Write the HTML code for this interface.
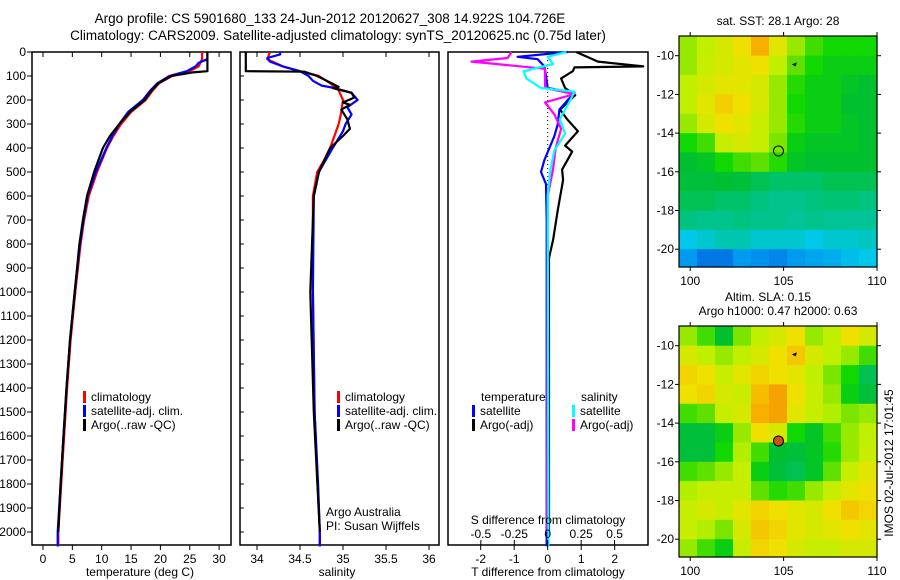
<!DOCTYPE html>
<html><head><meta charset="utf-8"><style>
html,body{margin:0;padding:0;background:#fff}
svg{display:block;font-family:"Liberation Sans",sans-serif}
</style></head><body>
<svg id="s" width="900" height="580" viewBox="0 0 900 580">
<text x="330" y="23" text-anchor="middle" font-size="13.5">Argo profile: CS 5901680_133 24-Jun-2012 20120627_308 14.922S 104.726E</text>
<text x="338" y="40" text-anchor="middle" font-size="13.5">Climatology: CARS2009. Satellite-adjusted climatology: synTS_20120625.nc (0.75d later)</text>
<g id="g"></g>
</svg>
<script>
// ---------- data ----------
const depthTicks=[0,100,200,300,400,500,600,700,800,900,1000,1100,1200,1300,1400,1500,1600,1700,1800,1900,2000];
const tempTicks=[0,5,10,15,20,25,30];
const salTicks=[34,34.5,35,35.5,36];
const salTickLabels=["34","34.5","35","35.5","36"];
const tdTicks=[-2,-1,0,1,2];
const sdTicks=[-0.5,-0.25,0,0.25,0.5];
const sdTickLabels=["-0.5","-0.25","0","0.25","0.5"];

const tClimDepth=[0,30,60,80,100,130,160,200,250,300,350,400,500,600,700,800,1000,1200,1400,1600,1800,2000,2060];
const tClim=[27.1,27.1,26.5,25,22,19.8,18.7,17.5,15,13.3,12,10.9,9.2,7.8,7,6.4,5.5,4.7,4.1,3.6,3.1,2.6,2.6];
const tSatDepth=[0,30,45,60,80,100,130,160,200,250,300,350,400,500,600,700,800,1000,1200,1400,1600,1800,2000,2060];
const tSat=[28,28,26.5,26,24.5,21.5,19.5,18.3,17,14.5,13,11.8,10.8,9,7.6,6.9,6.3,5.4,4.6,4.0,3.5,3.0,2.5,2.5];
const tArgoDepth=[0,80,85,100,130,160,200,250,300,350,400,500,600,700,800,1000,1200,1400,1600,1800,2000];
const tArgo=[28,28,25.5,21.8,19.7,18.5,17.3,14.8,13,11.4,10.2,8.7,7.5,6.8,6.2,5.4,4.6,4.0,3.5,3.0,2.6];

const sClimDepth=[0,30,60,80,100,130,160,200,250,300,400,450,500,600,1000,1500,2000,2060];
const sClim=[34.15,34.12,34.3,34.5,34.72,34.85,34.95,35.0,34.98,34.95,34.85,34.78,34.7,34.65,34.65,34.67,34.73,34.73];
const sSatDepth=[0,10,25,40,60,80,100,120,140,150,170,200,230,260,300,330,400,450,500,600,1000,1500,1800,2000,2060];
const sSat=[34.27,34.27,34.12,34.15,34.3,34.5,34.6,34.65,34.75,34.9,35.1,35.17,35.05,35.1,35.03,35.0,34.88,34.8,34.72,34.66,34.65,34.67,34.71,34.73,34.73];
const sArgoDepth=[0,80,82,100,145,150,170,190,210,220,240,280,320,350,400,500,600,1000,1500,2000];
const sArgo=[33.87,33.87,34.55,34.7,34.95,34.88,35.1,35.13,35.0,35.08,34.98,35.05,35.08,35.0,34.85,34.72,34.66,34.62,34.66,34.73];

const dTSatDepth=[0,20,30,60,100,150,170,200,240,300,350,400,450,500,550,700,2000,2060];
const dTSat=[0.6,-0.9,-0.3,-0.1,-0.05,0,0.8,0.6,0.35,0.3,0.2,0.05,-0.1,-0.2,-0.05,-0.03,-0.03,-0.03];
const dTArgoDepth=[0,40,60,64,80,110,150,180,200,240,280,330,390,415,490,533,658,783,858,1000,2000];
const dTArgo=[0.85,1.5,2.85,0.8,0.75,0.4,0.52,0.82,0.67,0.37,0.58,0.9,0.52,0.73,0.43,0.46,0.3,0.16,0.04,0.04,0.04];
const dSSatDepth=[0,20,50,80,110,150,165,200,280,340,410,490,600,2000,2060];
const dSSat=[0.14,0.0,0.04,-0.18,-0.16,-0.05,0.2,0.17,0.09,0.13,0.05,0.02,0.0,0.005,0.005];
const dSArgoDepth=[0,25,40,70,150,175,210,260,320,400,490,600,2000];
const dSArgo=[-0.27,-0.3,-0.57,-0.02,-0.02,0.2,-0.02,0.05,0.1,0.06,0.04,0.0,-0.005];

const mapLonTicks=[100,105,110];
const mapLatTicks=[-10,-12,-14,-16,-18,-20];
const sstGrid=[
[.62,.65,.68,.72,.80,.70,.62,.55,.50,.50,.50],
[.62,.66,.68,.70,.72,.65,.58,.50,.48,.48,.48],
[.65,.68,.70,.70,.68,.62,.52,.48,.48,.46,.45],
[.65,.70,.75,.72,.68,.62,.50,.48,.48,.45,.45],
[.62,.68,.72,.70,.66,.62,.52,.48,.48,.46,.45],
[.50,.55,.66,.68,.66,.60,.48,.46,.46,.46,.45],
[.45,.46,.50,.55,.58,.52,.46,.45,.45,.45,.45],
[.44,.44,.45,.44,.42,.40,.40,.40,.42,.42,.42],
[.42,.42,.40,.40,.38,.37,.37,.38,.39,.39,.38],
[.38,.37,.37,.38,.37,.37,.36,.37,.36,.36,.36],
[.30,.32,.34,.34,.32,.32,.32,.30,.32,.32,.33],
[.22,.15,.15,.22,.20,.18,.22,.24,.25,.28,.30]];
const slaGrid=[
[.62,.55,.45,.60,.65,.68,.72,.62,.65,.72,.68],
[.68,.65,.62,.65,.68,.72,.76,.68,.65,.62,.55],
[.74,.72,.66,.70,.74,.72,.70,.65,.60,.50,.42],
[.72,.74,.68,.66,.78,.82,.72,.66,.62,.48,.44],
[.55,.58,.66,.68,.80,.82,.70,.66,.64,.60,.62],
[.44,.44,.48,.62,.72,.68,.50,.46,.55,.62,.65],
[.44,.44,.50,.64,.55,.45,.44,.46,.52,.62,.66],
[.55,.58,.62,.66,.48,.44,.42,.46,.58,.66,.70],
[.64,.66,.66,.66,.58,.52,.55,.62,.66,.70,.72],
[.66,.68,.66,.70,.74,.72,.70,.68,.72,.76,.74],
[.66,.64,.60,.68,.76,.74,.70,.68,.70,.72,.70],
[.62,.55,.48,.66,.74,.72,.68,.66,.66,.68,.68]];
const floatLon=104.726, floatLat=-14.922;

// ---------- helpers ----------
const NS="http://www.w3.org/2000/svg";
const G=document.getElementById('g');
function mk(tag,attrs,parent){const e=document.createElementNS(NS,tag);for(const k in attrs)e.setAttribute(k,attrs[k]);(parent||G).appendChild(e);return e;}
function txt(x,y,s,size,anchor,parent){const e=mk('text',{x:x,y:y,'font-size':size,'text-anchor':anchor||'middle'},parent);e.textContent=s;return e;}
const yD=d=>52+0.24*d;
const xT=t=>43+5.87*t;
const xS=s=>257+86*(s-34);
const xDT=v=>547.7+33.5*v;
const xDS=v=>547.7+133.7*v;

function panel(x0,x1,name){
  const r=mk('rect',{x:x0,y:52,width:x1-x0,height:493,fill:'none',stroke:'#000','stroke-width':1.5});
  
  
}
function line(depths,vals,xf,color,w,name){
  const pts=depths.map((d,i)=>xf(vals[i]).toFixed(1)+','+yD(d).toFixed(1)).join(' ');
  const p=mk('polyline',{points:pts,fill:'none',stroke:color,'stroke-width':w||2.2,'stroke-linejoin':'round'});
  
  
}
function xticks(ticks,labels,xf,ylab,top,name){
  const g=mk('g',{});
  
  
  ticks.forEach((t,i)=>{
    const x=xf(t);
    mk('line',{x1:x,x2:x,y1:545,y2:550,stroke:'#000'},g);
    if(top) mk('line',{x1:x,x2:x,y1:52,y2:57,stroke:'#000'},g);
    txt(x,ylab,labels?labels[i]:String(t),12,'middle',g);
  });
}
function legendEntry(x,y,color,label,name){
  const g=mk('g',{});
  
  
  mk('rect',{x:x,y:y-10,width:3,height:12,fill:color},g);
  txt(x+8,y,label,12,'start',g);
}

// ---------- panel 1: temperature ----------
panel(32,231,'temperature-panel');
const yt=mk('g',{});


depthTicks.forEach(d=>{mk('line',{x1:27,x2:32,y1:yD(d),y2:yD(d),stroke:'#000'},yt);txt(26,yD(d)+4,String(d),12,'end',yt);});
xticks(tempTicks,null,xT,563,true,'temperature-axis');
txt(140,576,'temperature (deg C)',12);
line(tClimDepth,tClim,xT,'#f00',2.2,'temp-climatology-line');
line(tSatDepth,tSat,xT,'#00f',2.2,'temp-satellite-line');
line(tArgoDepth,tArgo,xT,'#000',2.2,'temp-argo-line');
legendEntry(83,401,'#f00','climatology','legend-climatology');
legendEntry(83,415,'#00f','satellite-adj. clim.','legend-satellite');
legendEntry(83,429,'#000','Argo(..raw -QC)','legend-argo');

// ---------- panel 2: salinity ----------
panel(240,439,'salinity-panel');
const yt2=mk('g',{});


depthTicks.forEach(d=>{mk('line',{x1:240,x2:244,y1:yD(d),y2:yD(d),stroke:'#000'},yt2);});
xticks(salTicks,salTickLabels,xS,563,true,'salinity-axis');
txt(337,576,'salinity',12);
line(sClimDepth,sClim,xS,'#f00',2.2,'sal-climatology-line');
line(sSatDepth,sSat,xS,'#00f',2.2,'sal-satellite-line');
line(sArgoDepth,sArgo,xS,'#000',2.2,'sal-argo-line');
legendEntry(337,401,'#f00','climatology','legend-sal-climatology');
legendEntry(337,415,'#00f','satellite-adj. clim.','legend-sal-satellite');
legendEntry(337,429,'#000','Argo(..raw -QC)','legend-sal-argo');
txt(326,516,'Argo Australia',12,'start');
txt(326,530,'PI: Susan Wijffels',12,'start');

// ---------- panel 3: differences ----------
panel(448,648,'difference-panel');
mk('line',{x1:547.7,x2:547.7,y1:52,y2:545,stroke:'#000','stroke-dasharray':'1,3'});
line(dTArgoDepth,dTArgo,xDT,'#000',2.2,'tdiff-argo-line');
line(dTSatDepth,dTSat,xDT,'#00f',2.2,'tdiff-satellite-line');
line(dSArgoDepth,dSArgo,xDS,'#f0f',2.2,'sdiff-argo-line');
line(dSSatDepth,dSSat,xDS,'#0ff',2.2,'sdiff-satellite-line');
xticks(tdTicks,null,xDT,563,false,'tdiff-axis');
txt(548,576,'T difference from climatology',12);
const sg=mk('g',{});


sdTicks.forEach((t,i)=>{mk('line',{x1:xDS(t),x2:xDS(t),y1:540,y2:545,stroke:'#000'},sg);txt(xDS(t),538,sdTickLabels[i],12,'middle',sg);});
txt(548,524,'S difference from climatology',12);
txt(481,401,'temperature',12,'start');
txt(581,401,'salinity',12,'start');
legendEntry(472,415,'#00f','satellite','legend-tdiff-satellite');
legendEntry(472,429,'#000','Argo(-adj)','legend-tdiff-argo');
legendEntry(572,415,'#0ff','satellite','legend-sdiff-satellite');
legendEntry(572,429,'#f0f','Argo(-adj)','legend-sdiff-argo');

// ---------- maps ----------
const cstops=[[0,[0,48,192]],[.2,[0,144,240]],[.3,[0,200,232]],[.36,[0,196,150]],[.45,[0,192,48]],[.5,[16,216,0]],[.58,[96,224,0]],[.65,[192,240,0]],[.72,[240,224,0]],[.8,[248,176,0]],[.9,[232,112,0]],[1,[192,64,0]]];
function cmap(v){for(let i=1;i<cstops.length;i++){if(v<=cstops[i][0]){const a=cstops[i-1],b=cstops[i];const f=(v-a[0])/(b[0]-a[0]);const c=a[1].map((x,k)=>Math.round(x+(b[1][k]-x)*f));return 'rgb('+c.join(',')+')';}}return 'rgb(192,64,0)';}
const mX0=679,mX1=877,lon0=99.4,lon1=110;
const mLon=l=>mX0+(l-lon0)*(mX1-mX0)/(lon1-lon0);
function drawMap(y0,grid,name,dotFill){
  const mLat=la=>y0+19.7+(-10-la)*19.35;
  const g=mk('g',{});
  
  
  const rows=grid.length, cols=grid[0].length;
  const lonStep=(lon1-lon0)/cols, latTop=-9, latStep=(21+latTop)/rows;
  grid.forEach((row,r)=>row.forEach((v,c)=>{
    const xa=mLon(lon0+c*lonStep), xb=mLon(lon0+(c+1)*lonStep);
    const ya=Math.max(y0,mLat(latTop-r*latStep)), yb=Math.min(y0+231,mLat(latTop-(r+1)*latStep));
    const cell=mk('rect',{x:xa,y:ya,width:xb-xa+0.6,height:yb-ya+0.6,fill:cmap(v)},g);
    
    
  }));
  mk('rect',{x:mX0,y:y0,width:mX1-mX0,height:231,fill:'none',stroke:'#000','stroke-width':1.2},g);
  mapLonTicks.forEach(l=>{mk('line',{x1:mLon(l),x2:mLon(l),y1:y0-4,y2:y0,stroke:'#000'},g);mk('line',{x1:mLon(l),x2:mLon(l),y1:y0+231,y2:y0+235,stroke:'#000'},g);txt(mLon(l),y0+249,String(l),12,'middle',g);});
  mapLatTicks.forEach(la=>{mk('line',{x1:mX0-4,x2:mX0,y1:mLat(la),y2:mLat(la),stroke:'#000'},g);mk('line',{x1:mX1,x2:mX1+4,y1:mLat(la),y2:mLat(la),stroke:'#000'},g);txt(mX0-5,mLat(la)+4,String(la),12,'end',g);});
  const cx=mLon(floatLon), cy=mLat(floatLat);
  mk('circle',{cx:cx,cy:cy,r:5,fill:dotFill,stroke:'#000','stroke-width':1},g);
  mk('path',{d:'M'+(mLon(105.6)-3)+','+(mLat(-10.5)-1)+' l5,-2 l-1,4 z',fill:'#000'},g);
}
drawMap(36,sstGrid,'sst-map','none');
txt(778,25,'sat. SST: 28.1  Argo: 28',12);
drawMap(326,slaGrid,'sla-map','#d05010');
txt(768,301,'Altim. SLA: 0.15',12);
txt(778,315,'Argo h1000: 0.47 h2000: 0.63',12);
const st=txt(0,0,'IMOS 02-Jul-2012 17:01:45',12,'middle');
st.setAttribute('transform','translate(893,463) rotate(-90)');


</script>
</body></html>
